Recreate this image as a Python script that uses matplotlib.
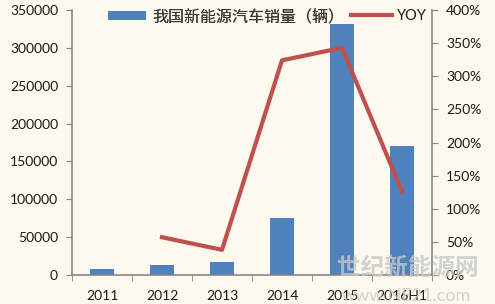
import numpy as np
import matplotlib.pyplot as plt
from matplotlib.ticker import FuncFormatter

# data
years = ['2011', '2012', '2013', '2014', '2015', '2016H1']
sales = [8159, 12791, 17642, 74763, 331092, 170000]
yoy_x = [1, 2, 3, 4, 5]
yoy = [57, 38, 324, 343, 126]

bg = '#fdf9ef'
blue = '#4f81bd'
red = '#c0504d'
grey = '#868686'

plt.rcParams['font.family'] = ['Lato', 'Noto Sans CJK SC', 'DejaVu Sans']

fig = plt.figure(figsize=(4.95, 3.04), dpi=100, facecolor=bg)
ax = fig.add_axes([72/495, 29/304, 360/495, 265/304], facecolor=bg)
ax2 = ax.twinx()

x = np.arange(len(years))
b = ax.bar(x, sales, width=0.4, color=blue, zorder=2)
l, = ax2.plot(yoy_x, yoy, color=red, lw=3, zorder=3)

ax.set_xlim(-0.5, 5.5)
ax.set_ylim(0, 350000)
ax.set_yticks(np.arange(0, 350001, 50000))
ax2.set_ylim(0, 400)
ax2.set_yticks(np.arange(0, 401, 50))
ax2.yaxis.set_major_formatter(FuncFormatter(lambda v, p: '%d%%' % v))

ax.set_xticks(x)
ax.set_xticklabels(years)
ax.set_xticks(np.arange(-0.5, 6, 1), minor=True)
ax.tick_params(axis='x', which='major', length=0, pad=11, labelsize=10, colors='#1a1a1a')
ax.tick_params(axis='x', which='minor', length=4, color=grey)
ax.tick_params(axis='y', length=4, color=grey, labelsize=10, labelcolor='#1a1a1a', pad=6)
ax2.tick_params(axis='y', length=4, color=grey, labelsize=10, labelcolor='#1a1a1a', pad=6)

for a in (ax, ax2):
    a.spines['top'].set_visible(False)
    for s in ('left', 'right', 'bottom'):
        a.spines[s].set_color(grey)
        a.spines[s].set_linewidth(1.2)
ax.spines['right'].set_visible(False)
ax2.spines['left'].set_visible(False)
ax2.spines['bottom'].set_visible(False)

# two legend entries placed separately so their spacing matches the picture
leg1 = ax.legend([b], ['我国新能源汽车销量（辆）'], frameon=False, loc='upper left',
                 bbox_to_anchor=(0.1, 1.005), fontsize=11.5, borderpad=0, borderaxespad=0,
                 handlelength=2.4, handleheight=0.42, handletextpad=0.4, labelcolor='#3a3a3a')
ax.add_artist(leg1)
leg2 = ax2.legend([l], ['YOY'], frameon=False, loc='upper left',
                  bbox_to_anchor=(0.775, 1.003), fontsize=10.5, borderpad=0, borderaxespad=0,
                  handlelength=2.8, handletextpad=0.35, labelcolor='#1a1a1a')

# watermark
fig.text(0.68, 0.095, '世纪新能源网', fontsize=17, color='#c8c8c8', alpha=0.8,
         family=['Noto Sans CJK SC'], fontweight='bold')
fig.text(0.69, 0.01, 'www.NE21.com', fontsize=13, color='#c8c8c8', alpha=0.8)

fig.savefig('out.png', dpi=100, facecolor=bg)
